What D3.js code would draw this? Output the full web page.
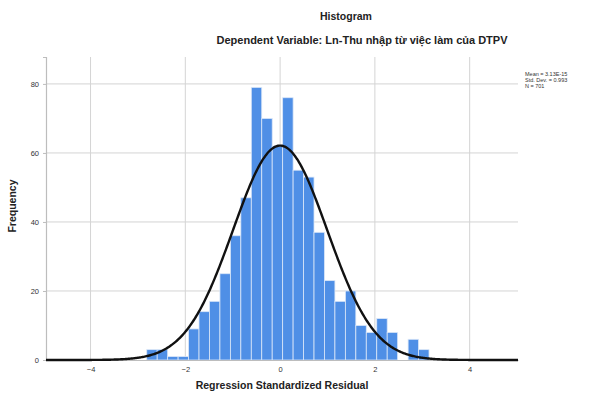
<!DOCTYPE html>
<html>
<head>
<meta charset="utf-8">
<script src="https://cdn.jsdelivr.net/npm/d3@7"></script>
<style>
  body { margin: 0; background: #fff; }
  svg { font-family: "Liberation Sans", Arial, sans-serif; }
</style>
</head>
<body>
<svg id="chart" width="591" height="401"></svg>
<script>
// histogram bins of the standardized residuals
var binStart = -2.814;
var binWidth = 0.2206;
var binCounts = [3, 3, 1, 1, 9, 14, 17, 25, 36, 47, 79, 70, 62, 76, 55, 53,
                 37, 23, 17, 20, 10, 8, 12, 8, 0, 6, 3];

// fitted normal curve parameters
var statMean = 3.13e-15;
var statSd = 0.993;
var statN = 701;

var xTicks = [-4, -2, 0, 2, 4];
var yTicks = [0, 20, 40, 60, 80];
var statLines = ['Mean = 3.13E-15', 'Std. Dev. = 0.993', 'N = 701'];

var BAR_COLOR = '#4f8fe6';
var GRID_COLOR = '#d4d4d4';

var margin = {left: 46, right: 73, top: 57, bottom: 41};
var W = 591, H = 401;

var svg = d3.select('#chart');

var x = d3.scaleLinear()
    .domain([-4.94, 5.02])
    .range([margin.left, W - margin.right]);

var y = d3.scaleLinear()
    .domain([0, 87.8])
    .range([H - margin.bottom, margin.top]);

// grid
svg.append('g')
    .selectAll('line')
    .data(yTicks.slice(1))
    .enter().append('line')
    .attr('x1', x.range()[0]).attr('x2', x.range()[1])
    .attr('y1', function (d) { return y(d); })
    .attr('y2', function (d) { return y(d); })
    .attr('stroke', GRID_COLOR).attr('stroke-width', 1);

svg.append('g')
    .selectAll('line')
    .data(xTicks)
    .enter().append('line')
    .attr('x1', function (d) { return x(d); })
    .attr('x2', function (d) { return x(d); })
    .attr('y1', y.range()[1]).attr('y2', y.range()[0])
    .attr('stroke', GRID_COLOR).attr('stroke-width', 1);

// bars
svg.append('g')
    .selectAll('rect')
    .data(binCounts)
    .enter().append('rect')
    .attr('x', function (d, i) { return x(binStart + i * binWidth); })
    .attr('width', function (d, i) { return x(binStart + (i + 1) * binWidth) - x(binStart + i * binWidth); })
    .attr('y', function (d) { return y(d); })
    .attr('height', function (d) { return y(0) - y(d); })
    .attr('fill', BAR_COLOR)
    .attr('stroke', '#dbe7f8')
    .attr('stroke-width', 0.8);

// axes
var yAxis = d3.axisLeft(y).tickValues(yTicks).tickSize(3).tickFormat(d3.format('d'));
var gy = svg.append('g')
    .attr('transform', 'translate(' + margin.left + ',0)')
    .call(yAxis);
gy.select('.domain').attr('stroke', '#bdbdbd').attr('stroke-width', 1.2);
gy.selectAll('.tick line').attr('stroke', '#bdbdbd');
gy.selectAll('.tick text').attr('font-size', 7.5).attr('fill', '#333').attr('dx', -1);

var xAxis = d3.axisBottom(x).tickValues(xTicks).tickSize(0).tickFormat(d3.format('d'));
var gx = svg.append('g')
    .attr('transform', 'translate(0,' + y(0) + ')')
    .call(xAxis);
gx.select('.domain').attr('stroke', '#bdbdbd');
gx.selectAll('.tick text').attr('font-size', 7.5).attr('fill', '#333').attr('dy', '1.25em');

// normal curve
var scaleFactor = statN * binWidth / (statSd * Math.sqrt(2 * Math.PI));
var curvePts = d3.range(x.domain()[0], x.domain()[1] + 0.001, 0.02).map(function (v) {
  var z = (v - statMean) / statSd;
  return [v, scaleFactor * Math.exp(-0.5 * z * z)];
});
svg.append('path')
    .datum(curvePts)
    .attr('fill', 'none')
    .attr('stroke', '#111')
    .attr('stroke-width', 2.4)
    .attr('d', d3.line()
      .x(function (d) { return x(d[0]); })
      .y(function (d) { return y(d[1]); }));

// titles
svg.append('text')
    .attr('x', 346).attr('y', 20)
    .attr('text-anchor', 'middle')
    .attr('font-size', 10.5).attr('font-weight', 'bold').attr('fill', '#222')
    .text('Histogram');

svg.append('text')
    .attr('x', 362).attr('y', 44)
    .attr('text-anchor', 'middle')
    .attr('font-size', 11).attr('font-weight', 'bold').attr('fill', '#222')
    .text('Dependent Variable: Ln-Thu nhập từ việc làm của DTPV');

svg.append('text')
    .attr('x', 282).attr('y', 389)
    .attr('text-anchor', 'middle')
    .attr('font-size', 10.5).attr('font-weight', 'bold').attr('fill', '#222')
    .text('Regression Standardized Residual');

svg.append('text')
    .attr('transform', 'translate(16,206) rotate(-90)')
    .attr('text-anchor', 'middle')
    .attr('font-size', 10.5).attr('font-weight', 'bold').attr('fill', '#222')
    .text('Frequency');

// stats box
svg.append('g')
    .selectAll('text')
    .data(statLines)
    .enter().append('text')
    .attr('x', 525)
    .attr('y', function (d, i) { return 76 + i * 6; })
    .attr('font-size', 5.5).attr('fill', '#333')
    .text(function (d) { return d; });
</script>
</body>
</html>
